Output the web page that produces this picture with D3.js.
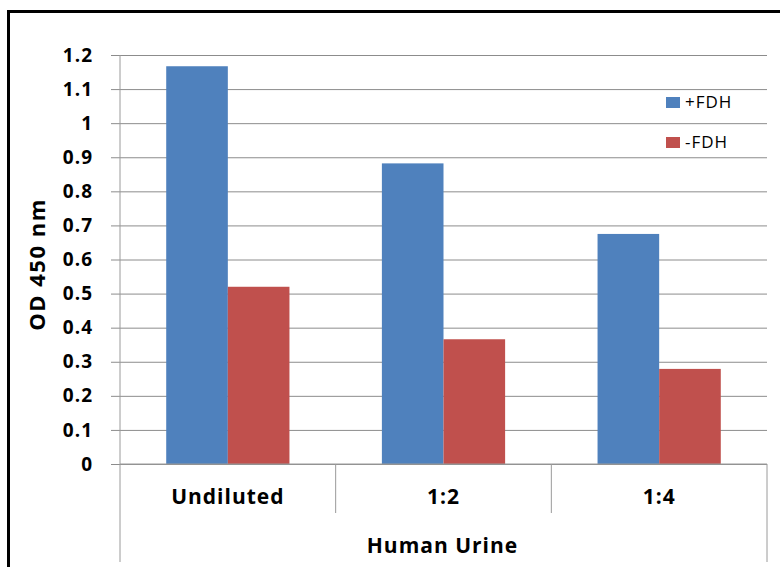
<!DOCTYPE html>
<html>
<head>
<meta charset="utf-8">
<script src="https://cdn.jsdelivr.net/npm/d3@7"></script>
<style>
  body { margin: 0; background: #fff; }
  svg text { font-family: "Open Sans", "Liberation Sans", sans-serif; font-weight: bold; fill: #000; }
</style>
</head>
<body>
<svg class="chart" width="780" height="567"></svg>
<script>
var categories = ['Undiluted', '1:2', '1:4'];
var seriesNames = ['+FDH', '-FDH'];
var plusFDH = [1.167, 0.882, 0.675];
var minusFDH = [0.52, 0.366, 0.279];
var yTicks = [0, 0.1, 0.2, 0.3, 0.4, 0.5, 0.6, 0.7, 0.8, 0.9, 1, 1.1, 1.2];
var colors = ['#4f81bd', '#c0504d'];

var margin = {top: 55, right: 13, bottom: 103, left: 120},
    width = 780 - margin.left - margin.right,
    height = 567 - margin.top - margin.bottom;

var svg = d3.select(".chart");

// outer frame
svg.append("rect")
  .attr("x", 8.5).attr("y", 11.5)
  .attr("width", 800).attr("height", 600)
  .attr("fill", "none")
  .attr("stroke", "#000")
  .attr("stroke-width", 3);

var g = svg.append("g").attr("transform", "translate(" + margin.left + "," + margin.top + ")");

var x0 = d3.scaleBand().domain(categories).range([0, width]);
var x1 = d3.scaleBand().domain(seriesNames)
  .range([0, x0.bandwidth()])
  .paddingOuter(0.75).paddingInner(0);
var y = d3.scaleLinear().domain([0, 1.2]).range([height, 0]);

// gridlines + tick labels
var yAxis = g.append("g")
  .call(d3.axisLeft(y).tickValues(yTicks).tickSize(-width - 9).tickFormat(d3.format("")));
yAxis.select(".domain").remove();
yAxis.selectAll(".tick line")
  .attr("x1", width).attr("x2", -9)
  .attr("stroke", "#8c8c8c");
yAxis.selectAll(".tick text")
  .style("font-size", "19px")
  .style("letter-spacing", "1px")
  .attr("x", -27);

var rows = categories.map(function(c, i) {
  return {cat: c, vals: [plusFDH[i], minusFDH[i]]};
});

var grp = g.selectAll(".cat")
  .data(rows)
  .enter().append("g")
  .attr("transform", function(d) { return "translate(" + x0(d.cat) + ",0)"; });

grp.selectAll("rect")
  .data(function(d) { return d.vals.map(function(v, j) { return {s: seriesNames[j], v: v, j: j}; }); })
  .enter().append("rect")
  .attr("x", function(d) { return x1(d.s); })
  .attr("y", function(d) { return y(d.v); })
  .attr("width", x1.bandwidth())
  .attr("height", function(d) { return height - y(d.v); })
  .attr("fill", function(d) { return colors[d.j]; });

// axes lines
var axisColor = "#9a9a9a";
g.append("line").attr("x1", 0).attr("x2", 0).attr("y1", 0).attr("y2", height + 98)
  .attr("stroke", axisColor);
g.append("line").attr("x1", 0).attr("x2", width).attr("y1", height).attr("y2", height)
  .attr("stroke", axisColor);
g.append("line").attr("x1", width).attr("x2", width).attr("y1", height).attr("y2", height + 98)
  .attr("stroke", axisColor);
categories.slice(1).forEach(function(c) {
  g.append("line").attr("x1", x0(c)).attr("x2", x0(c)).attr("y1", height).attr("y2", height + 49)
    .attr("stroke", axisColor);
});

// category labels
g.selectAll(".catlabel")
  .data(categories)
  .enter().append("text")
  .attr("x", function(d) { return x0(d) + x0.bandwidth() / 2; })
  .attr("y", height + 40)
  .attr("text-anchor", "middle")
  .style("font-size", "21px")
  .style("letter-spacing", "1px")
  .text(function(d) { return d; });

g.append("text")
  .attr("x", width / 2 - 1)
  .attr("y", height + 89)
  .attr("text-anchor", "middle")
  .style("font-size", "21px")
  .style("letter-spacing", "1px")
  .text("Human Urine");

// y title
svg.append("text")
  .attr("transform", "translate(45," + (margin.top + height / 2 + 5) + ") rotate(-90)")
  .attr("text-anchor", "middle")
  .style("font-size", "22px")
  .style("letter-spacing", "1.5px")
  .text("OD 450 nm");

// legend
var leg = svg.append("g").attr("transform", "translate(666,97)");
seriesNames.forEach(function(s, i) {
  leg.append("rect").attr("x", 0).attr("y", i * 40).attr("width", 14).attr("height", 11)
    .attr("fill", colors[i]);
  leg.append("text").attr("x", 19).attr("y", i * 40 + 11)
    .style("font-size", "17px").style("font-weight", "normal")
    .style("letter-spacing", "1px")
    .text(s);
});
</script>
</body>
</html>
